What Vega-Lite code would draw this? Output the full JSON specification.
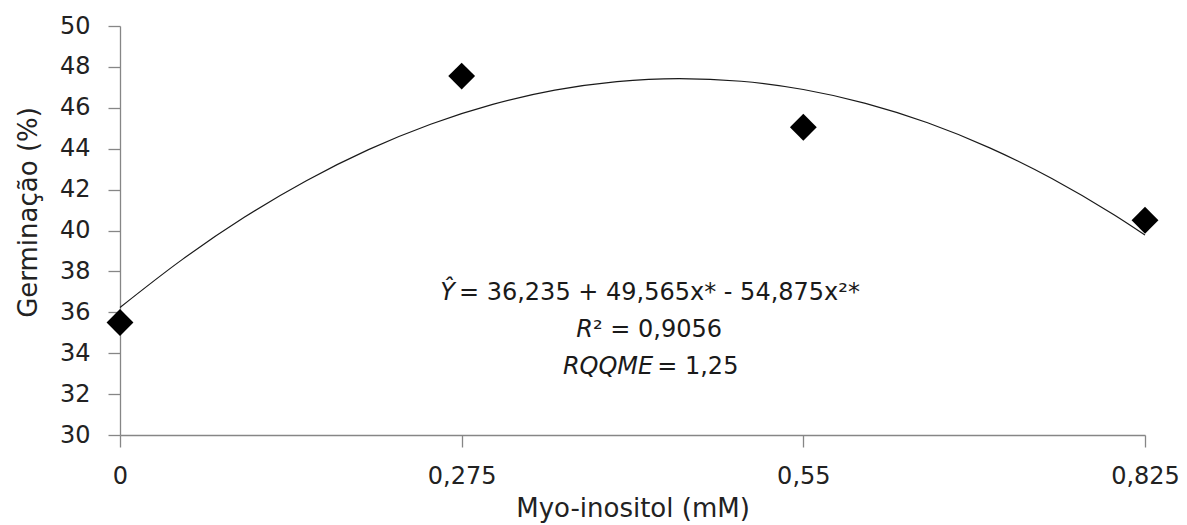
{
  "$schema": "https://vega.github.io/schema/vega-lite/v6.json",
  "width": 1025,
  "height": 409,
  "autosize": {"type": "none"},
  "padding": {"left": 120, "top": 26, "right": 42, "bottom": 90},
  "background": "white",
  "config": {
    "view": {"stroke": null},
    "font": "DejaVu Sans",
    "axis": {
      "grid": false,
      "domainColor": "#868686",
      "tickColor": "#868686",
      "labelColor": "#222222",
      "titleColor": "#222222",
      "labelFont": "DejaVu Sans",
      "titleFont": "DejaVu Sans",
      "labelFontSize": 24,
      "titleFontSize": 26,
      "titleFontWeight": "normal",
      "tickSize": 12,
      "domainWidth": 1.3,
      "tickWidth": 1.3
    }
  },
  "datasets": {
    "points": [
      {"x": 0, "y": 35.5},
      {"x": 0.275, "y": 47.55},
      {"x": 0.55, "y": 45.05},
      {"x": 0.825, "y": 40.5}
    ],
    "curve": [
      {"x": 0, "y": 36.235},
      {"x": 0.05, "y": 38.576},
      {"x": 0.1, "y": 40.643},
      {"x": 0.15, "y": 42.435},
      {"x": 0.2, "y": 43.953},
      {"x": 0.25, "y": 45.196},
      {"x": 0.3, "y": 46.166},
      {"x": 0.35, "y": 46.861},
      {"x": 0.4, "y": 47.281},
      {"x": 0.45, "y": 47.427},
      {"x": 0.5, "y": 47.299},
      {"x": 0.55, "y": 46.896},
      {"x": 0.6, "y": 46.219},
      {"x": 0.65, "y": 45.268},
      {"x": 0.7, "y": 44.042},
      {"x": 0.75, "y": 42.542},
      {"x": 0.8, "y": 40.767},
      {"x": 0.825, "y": 39.777}
    ]
  },
  "layer": [
    {
      "data": {"name": "curve"},
      "mark": {"type": "line", "color": "#1a1a1a", "strokeWidth": 1.2, "interpolate": "monotone"},
      "encoding": {
        "x": {
          "field": "x", "type": "quantitative",
          "scale": {"domain": [0, 0.825], "nice": false, "zero": false},
          "axis": {
            "values": [0, 0.275, 0.55, 0.825],
            "labelExpr": "replace(format(datum.value, '~g'), '.', ',')",
            "title": "Myo-inositol (mM)",
            "labelPadding": 17,
            "titlePadding": 7,
            "labelFlush": false
          }
        },
        "y": {
          "field": "y", "type": "quantitative",
          "scale": {"domain": [30, 50], "nice": false, "zero": false},
          "axis": {
            "values": [30, 32, 34, 36, 38, 40, 42, 44, 46, 48, 50],
            "title": "Germinação (%)",
            "labelPadding": 18,
            "titlePadding": 18,
            "titleY": 186,
            "labelFlush": false
          }
        }
      }
    },
    {
      "data": {"name": "points"},
      "mark": {"type": "point", "shape": "diamond", "filled": true, "color": "#000000", "size": 720, "opacity": 1},
      "encoding": {
        "x": {"field": "x", "type": "quantitative"},
        "y": {"field": "y", "type": "quantitative"}
      }
    },
    {
      "data": {"values": [{"t": "Ŷ"}]},
      "mark": {"type": "text", "align": "right", "baseline": "middle", "fontStyle": "italic", "fontSize": 24, "color": "#1a1a1a", "dx": -4},
      "encoding": {
        "x": {"datum": 0.2728, "type": "quantitative"},
        "y": {"datum": 36.94, "type": "quantitative"},
        "text": {"field": "t"}
      }
    },
    {
      "data": {"values": [{"t": "= 36,235 + 49,565x* - 54,875x²*"}]},
      "mark": {"type": "text", "align": "left", "baseline": "middle", "fontSize": 24, "color": "#1a1a1a"},
      "encoding": {
        "x": {"datum": 0.2728, "type": "quantitative"},
        "y": {"datum": 36.94, "type": "quantitative"},
        "text": {"field": "t"}
      }
    },
    {
      "data": {"values": [{"t": "R"}]},
      "mark": {"type": "text", "align": "right", "baseline": "middle", "fontStyle": "italic", "fontSize": 24, "color": "#1a1a1a"},
      "encoding": {
        "x": {"datum": 0.3807, "type": "quantitative"},
        "y": {"datum": 35.13, "type": "quantitative"},
        "text": {"field": "t"}
      }
    },
    {
      "data": {"values": [{"t": "² = 0,9056"}]},
      "mark": {"type": "text", "align": "left", "baseline": "middle", "fontSize": 24, "color": "#1a1a1a"},
      "encoding": {
        "x": {"datum": 0.3807, "type": "quantitative"},
        "y": {"datum": 35.13, "type": "quantitative"},
        "text": {"field": "t"}
      }
    },
    {
      "data": {"values": [{"t": "RQQME"}]},
      "mark": {"type": "text", "align": "right", "baseline": "middle", "fontStyle": "italic", "fontSize": 24, "color": "#1a1a1a", "dx": -4},
      "encoding": {
        "x": {"datum": 0.4324, "type": "quantitative"},
        "y": {"datum": 33.33, "type": "quantitative"},
        "text": {"field": "t"}
      }
    },
    {
      "data": {"values": [{"t": "= 1,25"}]},
      "mark": {"type": "text", "align": "left", "baseline": "middle", "fontSize": 24, "color": "#1a1a1a"},
      "encoding": {
        "x": {"datum": 0.4324, "type": "quantitative"},
        "y": {"datum": 33.33, "type": "quantitative"},
        "text": {"field": "t"}
      }
    }
  ]
}
